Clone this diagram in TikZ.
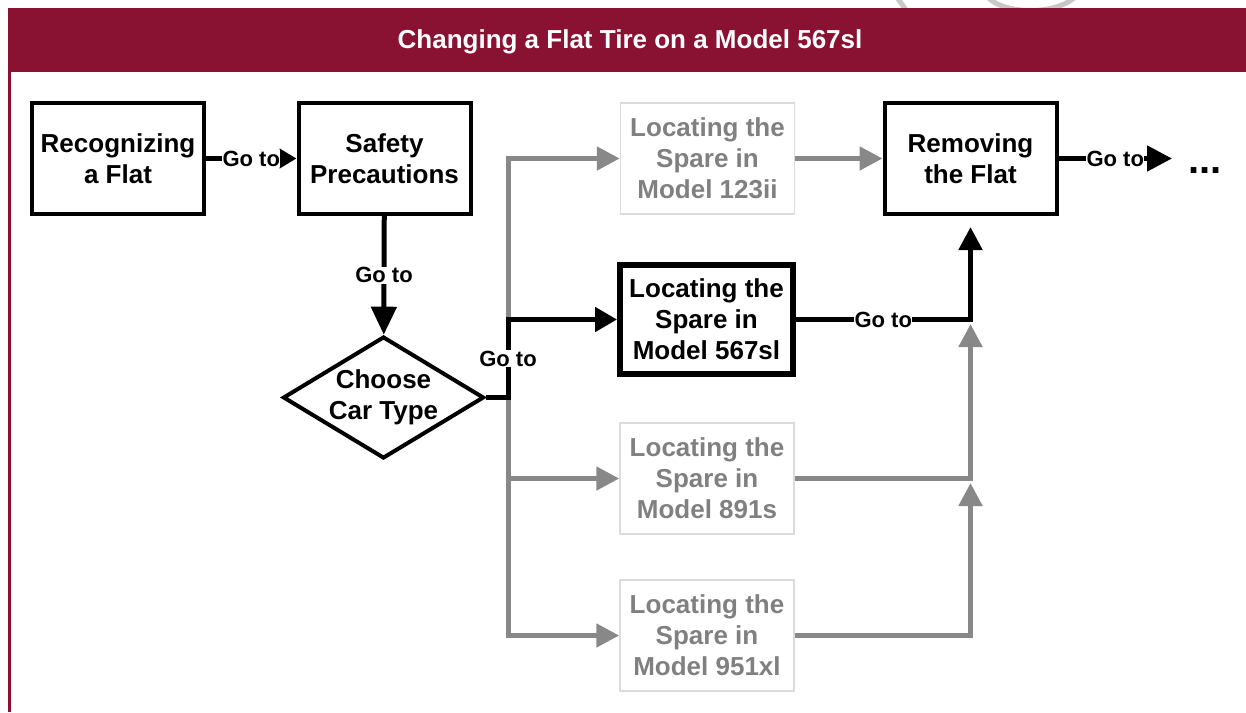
\documentclass[tikz,border=0pt]{standalone}
\usepackage{fontspec}
\setmainfont{Liberation Sans}
\usetikzlibrary{arrows.meta,shapes.geometric}
\definecolor{banner}{RGB}{137,17,50}
\definecolor{dimline}{RGB}{136,136,136}
\definecolor{dimtext}{RGB}{128,128,128}
\definecolor{dimframe}{RGB}{220,220,220}
\definecolor{watermark}{RGB}{200,200,200}
\begin{document}
\begin{tikzpicture}[x=1pt,y=-1pt,
  box/.style={draw=black, line width=4pt, minimum width=172pt, minimum height=111pt,
    inner sep=0pt, align=center, font=\fontsize{26}{31}\selectfont\bfseries},
  faded/.style={draw=dimframe, line width=1.5pt, text=dimtext, minimum width=174pt,
    minimum height=111pt, inner sep=0pt, align=center, font=\fontsize{26}{31}\selectfont\bfseries},
  chosen/.style={box, line width=6pt, minimum width=173pt, minimum height=109pt},
  decision/.style={diamond, draw=black, line width=4pt, aspect=1.64, minimum width=201pt,
    minimum height=121pt, inner sep=0pt, align=center, font=\fontsize{26}{31}\selectfont\bfseries},
  link/.style={draw=black, line width=5pt},
  dimlink/.style={draw=dimline, line width=5pt, -{Triangle[length=23pt,width=23pt]}},
  goto/.style={fill=white, inner sep=0.5pt, text=black, font=\fontsize{22}{22}\selectfont\bfseries}]
\useasboundingbox (0,0) rectangle (1246,712);

% faint marks above the banner
\draw[watermark, line width=5pt] (896,-4) -- (906,10);
\draw[watermark, line width=5pt] (985,-6) .. controls (1000,16) and (1060,16) .. (1078,-6);

% banner and frame
\fill[banner] (8,8) rectangle (1246,72);
\draw[banner, line width=3pt] (9,72) -- (9,712);
\node[text=white, font=\fontsize{26}{30}\selectfont\bfseries, anchor=base] (title)
  at (630,48.5) {Changing a Flat Tire on a Model 567sl};

% steps
\node[box] (rec) at (118,158.5) {Recognizing\\a Flat};
\node[box] (safe) at (384.5,158.5) {Safety\\Precautions};
\node[faded] (loc123) at (707.5,158.5) {Locating the\\Spare in\\Model 123ii};
\node[box] (remove) at (970.5,158.5) {Removing\\the Flat};
\node[chosen] (loc567) at (706.5,319.5) {Locating the\\Spare in\\Model 567sl};
\node[faded] (loc891) at (707,478.5) {Locating the\\Spare in\\Model 891s};
\node[faded] (loc951) at (707,635.5) {Locating the\\Spare in\\Model 951xl};
\node[decision] (choose) at (383.5,397.5) {Choose\\Car Type};
\node[font=\fontsize{40}{40}\selectfont\bfseries, anchor=base west, inner sep=0pt] (more)
  at (1188,173) {...};

% junction points
\coordinate (moretip) at (1172,158.5);
\coordinate (split) at (508,397.5);
\coordinate (m1) at (970.5,324);
\coordinate (m2) at (970.5,483);

% paths not taken
\draw[dimlink] (split) |- (loc123);
\draw[dimlink] (split) |- (loc891);
\draw[dimlink] (split) |- (loc951);
\draw[dimlink] (loc123) -- (remove);
\draw[dimlink] (loc891) -| (m1);
\draw[dimlink] (loc951) -| (m2);

% path taken
\draw[link, -{Triangle[length=17pt,width=19pt]}] (rec) -- node[goto]{Go to} (safe);
\draw[link, -{Triangle[length=28pt,width=25pt]}] (safe) -- node[goto]{Go to} (choose);
\draw[link, -{Triangle[length=22pt,width=24pt]}] (choose.east) -- (split)
  -- node[goto]{Go to} (split |- loc567) -- (loc567.west);
\draw[link, -{Triangle[length=23pt,width=23pt]}, shorten >=11pt] (loc567)
  -| node[goto, pos=0.25]{Go to} (remove);
\draw[link, -{Triangle[length=25pt,width=25pt]}] (remove) -- node[goto]{Go to} (moretip);
\end{tikzpicture}
\end{document}
